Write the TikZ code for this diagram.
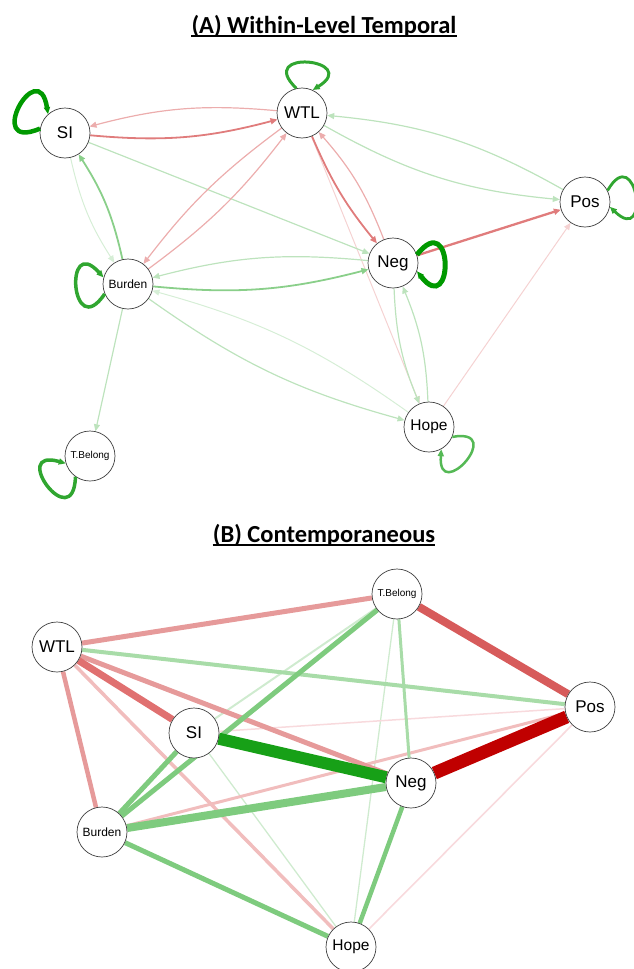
\documentclass[tikz,border=0pt]{standalone}
\usepackage{fontspec}
\setmainfont{Liberation Sans}
\newfontfamily\headfont{Carlito}
\usetikzlibrary{arrows.meta, backgrounds}

% panel A colours
\definecolor{grnDark}{HTML}{009900}
\definecolor{grnLoop}{HTML}{30A630}
\definecolor{grnLoopLt}{HTML}{55B955}
\definecolor{grnMid}{HTML}{8ACF8A}
\definecolor{grnLt}{HTML}{BDE3BD}
\definecolor{grnPale}{HTML}{D6EED6}
\definecolor{redMid}{HTML}{E07C7C}
\definecolor{redLt}{HTML}{ECADAD}
\definecolor{redPale}{HTML}{F5D2D2}
% panel B colours
\definecolor{grnStrong}{HTML}{17A017}
\definecolor{grnB}{HTML}{7ECB7E}
\definecolor{grnBLt}{HTML}{A8DCA8}
\definecolor{grnBPale}{HTML}{CFEBCF}
\definecolor{redStrong}{HTML}{C00000}
\definecolor{redB}{HTML}{D75B5B}
\definecolor{redBMid}{HTML}{E07070}
\definecolor{redBLt}{HTML}{E69A9A}
\definecolor{redBPale}{HTML}{F1BDBD}
\definecolor{redBFaint}{HTML}{F8DADD}

\begin{document}
\begin{tikzpicture}[x=1pt, y=1pt, >={Triangle[length=7pt,width=6pt]},
  var/.style={circle, draw=black!75, line width=0.7pt, fill=white, minimum size=50pt, inner sep=0pt, font=\fontsize{17}{17}\selectfont},
  smallvar/.style={font=\fontsize{12}{12}\selectfont},
  tinyvar/.style={font=\fontsize{10}{10}\selectfont},
  hopevar/.style={font=\fontsize{15.5}{15.5}\selectfont},
  heading/.style={font=\headfont\bfseries\fontsize{24.5}{26}\selectfont, inner sep=0pt, anchor=base},
  lw/.style={line width=#1pt}]

\useasboundingbox (0,0) rectangle (633,-969);

% (A) titles and nodes
\node[heading] (TitleA) at (324,-33) {(A) Within-Level Temporal};
\draw[lw=1.8] ([yshift=-3pt]TitleA.base west) -- ([yshift=-3pt]TitleA.base east);

\node[var] (SIa) at (65,-133) {SI};
\node[var] (WTLa) at (302,-113) {WTL};
\node[var] (Posa) at (585,-202) {Pos};
\node[var] (Nega) at (393,-263) {Neg};
\node[var, smallvar] (Burdena) at (128,-284) {Burden};
\node[var, hopevar] (Hopea) at (429,-427) {Hope};
\node[var, tinyvar] (TBelonga) at (90,-456) {T.Belong};

\begin{pgfonlayer}{background}
\draw[->, grnPale, lw=1] (Hopea) to[bend right=10] (Burdena);
\draw[->, grnPale, lw=1] (SIa) to[bend right=10] (Burdena);
\draw[->, redPale, lw=1] (Hopea) -- (Posa);
\draw[->, redPale, lw=1] (WTLa) -- (Hopea);
\draw[->, grnLt, lw=1.2] (SIa) -- (Nega);
\draw[->, grnLt, lw=1.2] (Burdena) -- (TBelonga);
\draw[->, grnLt, lw=1.2] (Posa) to[bend right=12] (WTLa);
\draw[->, grnLt, lw=1.2] (WTLa) to[bend right=12] (Posa);
\draw[->, grnLt, lw=1.2] (Nega) to[bend right=10] (Burdena);
\draw[->, grnLt, lw=1.2] (Burdena) to[bend right=10] (Hopea);
\draw[->, grnLt, lw=1.2] (Nega) to[bend right=10] (Hopea);
\draw[->, grnLt, lw=1.2] (Hopea) to[bend right=10] (Nega);
\draw[->, redLt, lw=1.2] (WTLa) to[bend right=10] (SIa);
\draw[->, redLt, lw=1.2] (WTLa) to[bend right=8] (Burdena);
\draw[->, redLt, lw=1.2] (Burdena) to[bend right=8] (WTLa);
\draw[->, redLt, lw=1.2] (Nega) to[bend right=10] (WTLa);
\draw[->, grnMid, lw=1.8] (Burdena) to[bend right=10] (SIa);
\draw[->, grnMid, lw=1.8] (Burdena) to[bend right=10] (Nega);
\draw[->, redMid, lw=1.8] (SIa) to[bend right=10] (WTLa);
\draw[->, redMid, lw=1.8] (WTLa) to[bend right=8] (Nega);
\draw[->, redMid, lw=2.3] (Nega) -- (Posa);
\end{pgfonlayer}

% self loops: node / direction / colour / width / size
\foreach \n/\a/\c/\w/\d in {SIa/151/grnDark/4.5/62, WTLa/84/grnLoop/3/58, Posa/8/grnLoop/2.8/58,
    Nega/0/grnDark/5/60, Burdena/184/grnLoop/3.5/60, Hopea/-42/grnLoopLt/2.5/56, TBelonga/216/grnLoop/3.5/60}{
  \pgfmathtruncatemacro\s{\a+19}
  \pgfmathtruncatemacro\e{\a-19}
  \draw[->, \c, lw=\w] (\n.\s) .. controls +({\a+52}:\d) and +({\a-52}:\d) .. (\n.\e);
}

% (B) titles and nodes
\node[heading] (TitleB) at (324,-542) {(B) Contemporaneous};
\draw[lw=1.8] ([yshift=-3pt]TitleB.base west) -- ([yshift=-3pt]TitleB.base east);

\node[var, tinyvar] (TBelongb) at (397,-594) {T.Belong};
\node[var] (WTLb) at (57,-647) {WTL};
\node[var] (Posb) at (590,-707) {Pos};
\node[var] (SIb) at (194,-733) {SI};
\node[var] (Negb) at (411,-783) {Neg};
\node[var, smallvar] (Burdenb) at (102,-832) {Burden};
\node[var, hopevar] (Hopeb) at (351,-947) {Hope};

\begin{pgfonlayer}{background}
\draw[grnBPale, lw=1.3] (TBelongb) -- (Hopeb);
\draw[grnBPale, lw=1.3] (SIb) -- (Hopeb);
\draw[redBFaint, lw=1.5] (SIb) -- (Posb);
\draw[redBFaint, lw=1.6] (Hopeb) -- (Posb);
\draw[grnBPale, lw=2] (TBelongb) -- (SIb);
\draw[redBPale, lw=3] (Burdenb) -- (Posb);
\draw[grnBLt, lw=3] (TBelongb) -- (Negb);
\draw[redBPale, lw=3.5] (WTLb) -- (Hopeb);
\draw[grnBLt, lw=4] (WTLb) -- (Posb);
\draw[redBLt, lw=4.5] (WTLb) -- (Burdenb);
\draw[redBLt, lw=5] (WTLb) -- (TBelongb);
\draw[redBLt, lw=5] (WTLb) -- (Negb);
\draw[grnB, lw=4.5] (Negb) -- (Hopeb);
\draw[grnB, lw=5] (Burdenb) -- (Hopeb);
\draw[grnB, lw=5] (SIb) -- (Burdenb);
\draw[grnB, lw=5] (TBelongb) -- (Burdenb);
\draw[redBMid, lw=7] (WTLb) -- (SIb);
\draw[grnB, lw=8] (Burdenb) -- (Negb);
\draw[redB, lw=8] (TBelongb) -- (Posb);
\draw[grnStrong, lw=12] (SIb) -- (Negb);
\draw[redStrong, lw=13] (Posb) -- (Negb);
\end{pgfonlayer}

\end{tikzpicture}
\end{document}
